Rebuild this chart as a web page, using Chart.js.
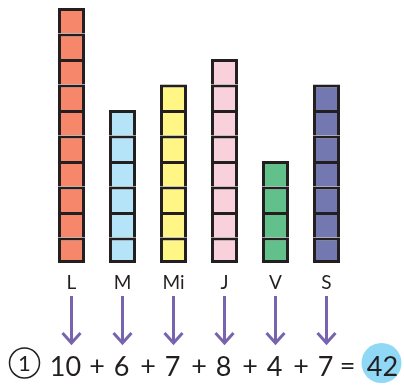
<!DOCTYPE html>
<html>
<head>
<meta charset="utf-8">
<script src="https://cdn.jsdelivr.net/npm/chart.js@4"></script>
<style>
  html, body { margin: 0; padding: 0; background: #fff; }
  #wrap { width: 404px; height: 385px; }
</style>
</head>
<body>
<div id="wrap"><canvas id="grafico"></canvas></div>
<script>
const dias = ["L", "M", "Mi", "J", "V", "S"];
const cubos = [10, 6, 7, 8, 4, 7];
const colores = ["#f6876a", "#b5e3f7", "#fff685", "#f9d1dc", "#62c18b", "#7478b0"];

const borde = "#231f20";
const morado = "#7763ae";
const maxCubos = Math.max(...cubos);

// one stacked dataset per row of cubes
const datasets = [];
for (let k = 0; k < maxCubos; k++) {
  datasets.push({
    label: "fila " + (k + 1),
    data: cubos.map((v) => (v > k ? 1 : null)),
    backgroundColor: colores,
    borderColor: borde,
    borderWidth: 3,
    borderSkipped: k === 0 ? false : "start",
    barPercentage: 0.53,
    categoryPercentage: 1,
  });
}

const ecuacion = {
  id: "ecuacion",
  afterDraw(chart) {
    const ctx = chart.ctx;
    const x = chart.scales.x;
    ctx.save();
    // flechas
    ctx.strokeStyle = morado;
    ctx.lineWidth = 3;
    cubos.forEach((v, i) => {
      const px = x.getPixelForValue(i);
      ctx.beginPath();
      ctx.moveTo(px, 296);
      ctx.lineTo(px, 343);
      ctx.moveTo(px - 9, 333);
      ctx.lineTo(px, 343);
      ctx.lineTo(px + 9, 333);
      ctx.stroke();
    });

    // suma
    const y = 367;
    ctx.fillStyle = borde;
    ctx.font = "27px Lato";
    ctx.textAlign = "center";
    ctx.textBaseline = "middle";
    let last = 0;
    cubos.forEach((v, i) => {
      const px = x.getPixelForValue(i) + (v >= 10 ? -6 : -1);
      ctx.fillText(String(v), px, y);
      if (i > 0) {
        const prev = x.getPixelForValue(i - 1);
        ctx.fillText("+", (prev + x.getPixelForValue(i)) / 2, y - 1);
      }
      last = x.getPixelForValue(i);
    });
    ctx.fillText("=", last + 21, y - 1);

    const total = cubos.reduce((a, b) => a + b, 0);
    ctx.fillStyle = "#8fd8f6";
    ctx.beginPath();
    ctx.arc(last + 55, 363, 20, 0, Math.PI * 2);
    ctx.fill();
    ctx.fillStyle = borde;
    ctx.fillText(String(total), last + 56, y);

    // numero del ejercicio
    const cx = x.getPixelForValue(0) - 47;
    ctx.strokeStyle = borde;
    ctx.lineWidth = 1.5;
    ctx.beginPath();
    ctx.arc(cx, 363, 15, 0, Math.PI * 2);
    ctx.stroke();
    ctx.font = "22px Lato";
    ctx.fillText("1", cx, 364);
    ctx.restore();
  },
};

new Chart(document.getElementById("grafico").getContext("2d"), {
  type: "bar",
  data: { labels: dias, datasets: datasets },
  options: {
    responsive: true,
    maintainAspectRatio: false,
    animation: false,
    layout: { padding: { left: 46, right: 52, top: 8, bottom: 0 } },
    plugins: { legend: { display: false }, tooltip: { enabled: false } },
    scales: {
      x: {
        stacked: true,
        grid: { display: false },
        border: { display: false },
        ticks: { color: borde, font: { family: "Lato", size: 19 }, padding: 0 },
        afterFit: (s) => { s.height = 122; },
      },
      y: { stacked: true, display: false, min: 0, max: maxCubos },
    },
  },
  plugins: [ecuacion],
});
</script>
</body>
</html>
